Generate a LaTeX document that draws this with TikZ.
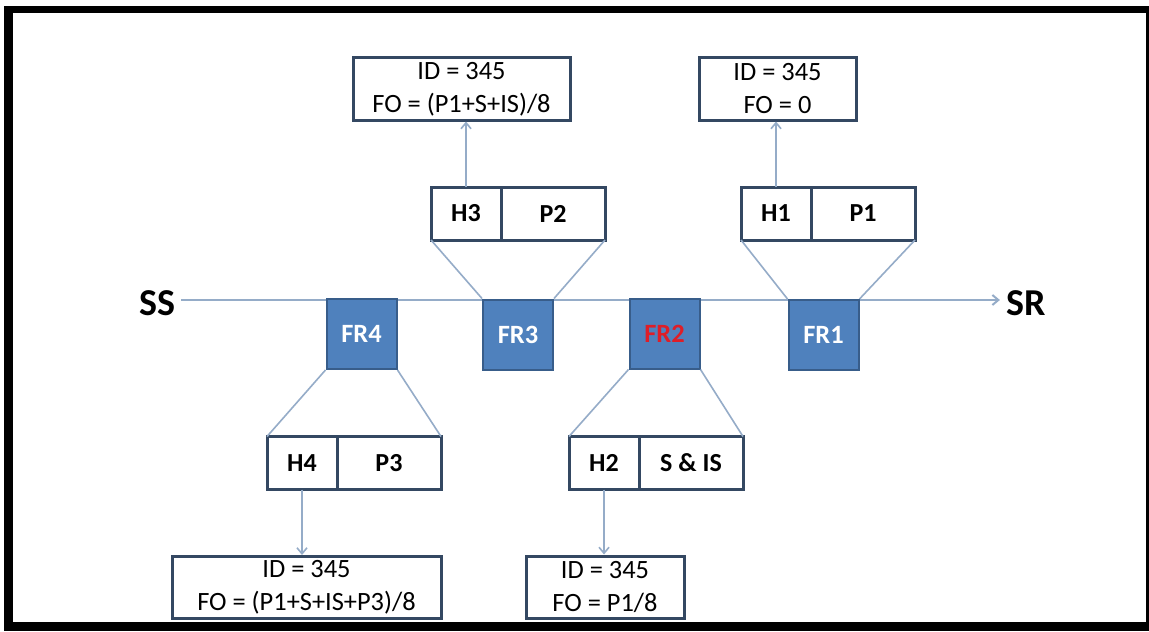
\documentclass[tikz,border=0pt]{standalone}
\usepackage{fontspec}
\setmainfont{Carlito}
\usepackage{tikz}
\usetikzlibrary{arrows.meta,positioning}
\definecolor{FrBlue}{RGB}{79,129,189}
\definecolor{FrEdge}{RGB}{56,93,138}
\definecolor{BoxEdge}{RGB}{52,72,98}
\definecolor{LinkGray}{RGB}{149,172,200}
\definecolor{AlertRed}{RGB}{222,30,40}

\begin{document}
\begin{tikzpicture}[
  x=0.5pt, y=-0.5pt,
  font=\fontsize{13.2}{16.5}\selectfont,
  frbox/.style={draw=FrEdge, line width=1pt, fill=FrBlue, minimum size=35pt,
    inner sep=0pt, text=white, font=\fontsize{13.2}{15}\selectfont\bfseries},
  cell/.style={draw=BoxEdge, line width=1.5pt, fill=white, minimum height=26.5pt,
    inner sep=0pt, outer sep=0pt, font=\fontsize{13}{15}\selectfont\bfseries},
  hcell/.style={cell, minimum width=35pt},
  pcell/.style={cell, minimum width=52pt},
  info/.style={draw=BoxEdge, line width=1.5pt, fill=white, minimum height=31pt,
    inner sep=0pt, align=center},
  endpt/.style={font=\fontsize{19}{22}\selectfont\bfseries, inner sep=3pt},
  link/.style={draw=LinkGray, line width=0.8pt},
  arr/.style={link, -{Straight Barb[length=3pt,width=5pt]}},
]
\useasboundingbox (0,0) rectangle (1149,631);
% outer frame
\fill[black] (4,6) rectangle (1149,631);
\fill[white] (13,13) rectangle (1146,622);

% sender / receiver
\node[endpt] (ss) at (157,303) {SS};
\node[endpt] (sr) at (1026,303) {SR};
\draw[arr, line width=1pt] ([yshift=1.5pt]ss.east) -- ([yshift=1.5pt]sr.west);

% fragments on the path
\node[frbox] (fr4) at (361.5,334) {FR4};
\node[frbox] (fr3) at (518,334.5) {FR3};
\node[frbox] (fr2) at (664.5,333.5) {\textcolor{AlertRed}{FR2}};
\node[frbox] (fr1) at (823.5,335) {FR1};

% header / payload cells
\node[hcell] (h3) at (466,213.5) {H3};
\node[pcell, right=0pt of h3] (p2) {P2};
\node[hcell] (h1) at (776,213.5) {H1};
\node[pcell, right=0pt of h1] (p1) {P1};
\node[hcell] (h4) at (302,463) {H4};
\node[pcell, right=0pt of h4] (p3) {P3};
\node[hcell] (h2) at (604,463) {H2};
\node[pcell, right=0pt of h2] (sis) {S \& IS};

% reassembly state
\node[info, minimum width=108.5pt] (id3) at (461.5,89) {ID = 345\\FO = (P1+S+IS)/8};
\node[info, minimum width=78.5pt] (id1) at (777.5,89) {ID = 345\\FO = 0};
\node[info, minimum width=134.5pt] (id4) at (306.5,587.5) {ID = 345\\FO = (P1+S+IS+P3)/8};
\node[info, minimum width=79pt] (id2) at (605,587) {ID = 345\\FO = P1/8};

\draw[link] (h3.south west) -- (fr3.north west);
\draw[link] (p2.south east) -- (fr3.north east);
\draw[link] (h1.south west) -- (fr1.north west);
\draw[link] (p1.south east) -- (fr1.north east);
\draw[link] (fr4.south west) -- (h4.north west);
\draw[link] (fr4.south east) -- (p3.north east);
\draw[link] (fr2.south west) -- (h2.north west);
\draw[link] (fr2.south east) -- (sis.north east);

\draw[arr] (h3.north) -- (h3.north |- id3.south);
\draw[arr] (h1.north) -- (h1.north |- id1.south);
\draw[arr] (h4.south) -- (h4.south |- id4.north);
\draw[arr] (h2.south) -- (h2.south |- id2.north);
\end{tikzpicture}
\end{document}
